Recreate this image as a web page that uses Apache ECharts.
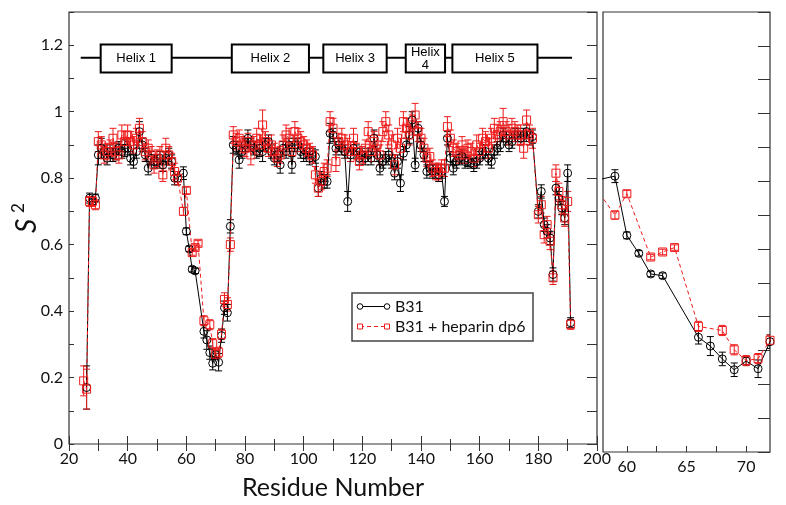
<!DOCTYPE html>
<html><head><meta charset="utf-8">
<script src="https://cdn.jsdelivr.net/npm/echarts@6/dist/echarts.min.js"></script>
<style>html,body{margin:0;padding:0;background:#fff}#c{width:786px;height:505px}</style>
</head><body><div id="c"></div><script>
const residues = [
 25,26,27,28,29,30,31,32,33,34,
 35,36,37,38,39,40,41,42,43,44,
 45,46,47,48,49,50,51,52,53,54,
 55,56,57,58,59,60,61,62,63,64,
 65,66,67,68,69,70,71,72,73,74,
 75,76,77,78,79,80,81,82,83,84,
 85,86,87,88,89,90,91,92,93,94,
 95,96,97,98,99,100,101,102,103,104,
 105,106,107,108,109,110,111,112,113,114,
 115,116,117,118,119,120,121,122,123,124,
 125,126,127,128,129,130,131,132,133,134,
 135,136,137,138,139,140,141,142,143,144,
 145,146,147,148,149,150,151,152,153,154,
 155,156,157,158,159,160,161,162,163,164,
 165,166,167,168,169,170,171,172,173,174,
 175,176,177,178,179,180,181,182,183,184,
 185,186,187,188,189,190,191];
const b31 = [
 null,0.17,0.74,0.73,0.74,0.87,0.89,0.88,0.86,0.88,
 0.87,0.88,0.89,0.88,0.89,0.89,0.86,0.85,0.88,0.94,
 0.90,0.87,0.83,0.86,0.85,0.85,0.86,0.84,0.86,0.87,
 0.85,0.80,0.80,null,0.815,0.64,0.587,0.526,0.521,null,
 null,0.339,0.313,0.275,0.243,0.269,0.246,0.326,0.41,0.395,
 0.655,0.90,0.89,0.855,0.88,0.90,0.92,0.90,0.89,0.88,
 0.89,0.88,0.90,0.91,0.88,0.86,0.87,0.84,0.89,0.88,
 0.90,0.84,0.90,0.90,0.88,0.87,0.88,0.86,0.87,0.865,
 0.77,0.80,0.79,0.79,0.935,0.93,0.89,0.90,0.89,0.88,
 0.73,0.87,0.89,0.88,0.86,0.87,0.86,0.87,0.86,0.92,
 0.87,0.83,0.85,0.86,0.87,0.85,0.815,0.85,0.785,0.875,
 0.90,0.93,0.975,0.84,0.95,0.90,0.87,0.82,0.83,0.82,
 0.82,0.81,0.82,0.73,0.92,0.86,0.83,0.85,0.86,0.865,
 0.85,0.85,0.845,0.84,0.85,0.86,0.88,0.88,0.86,0.85,
 0.88,0.89,0.90,0.93,0.92,0.90,0.91,0.93,0.93,0.92,
 0.93,0.94,0.92,0.925,null,0.70,0.76,0.66,0.64,0.62,
 0.51,0.77,0.74,0.71,0.68,0.815,0.365];
const b31Err = [
 0,0.065,0.015,0.012,0.012,0.03,0.03,0.02,0.02,0.02,
 0.02,0.025,0.02,0.02,0.025,0.02,0.02,0.02,0.02,0.03,
 0.02,0.02,0.02,0.02,0.02,0.02,0.02,0.02,0.02,0.02,
 0.02,0.02,0.02,0,0.019,0.01,0.008,0.008,0.008,0,
 0,0.02,0.028,0.02,0.02,0.012,0.026,0.02,0.02,0.025,
 0.02,0.025,0.02,0.025,0.02,0.02,0.025,0.02,0.02,0.02,
 0.025,0.03,0.02,0.02,0.02,0.02,0.02,0.025,0.02,0.02,
 0.02,0.025,0.02,0.02,0.02,0.02,0.02,0.02,0.02,0.02,
 0.025,0.02,0.02,0.02,0.03,0.02,0.02,0.02,0.02,0.02,
 0.03,0.02,0.02,0.02,0.02,0.02,0.02,0.02,0.02,0.025,
 0.02,0.02,0.02,0.02,0.02,0.02,0.02,0.02,0.025,0.02,
 0.02,0.025,0.025,0.02,0.02,0.02,0.02,0.02,0.02,0.02,
 0.02,0.02,0.02,0.015,0.02,0.02,0.02,0.02,0.02,0.02,
 0.02,0.015,0.015,0.02,0.02,0.02,0.02,0.02,0.02,0.02,
 0.02,0.02,0.02,0.02,0.02,0.02,0.02,0.02,0.02,0.02,
 0.02,0.02,0.02,0.02,0,0.02,0.02,0.02,0.02,0.02,
 0.02,0.02,0.02,0.02,0.02,0.025,0.015];
const heparin = [
 0.19,0.165,0.73,0.73,0.72,0.91,0.90,0.87,0.88,0.89,
 0.92,0.88,0.87,0.93,0.91,0.93,0.91,0.90,0.92,0.95,
 0.91,0.88,0.89,0.87,0.84,0.86,0.87,0.81,0.89,0.87,
 0.85,0.82,0.80,null,0.70,0.763,null,0.576,0.591,0.604,
 null,0.371,null,0.359,0.302,0.27,0.276,0.33,0.435,0.42,
 0.60,0.93,0.91,0.92,0.90,0.89,0.91,0.87,0.90,0.92,
 0.90,0.96,0.91,0.89,0.90,0.88,0.86,0.87,0.90,0.93,
 0.92,0.88,0.94,0.92,0.91,0.90,0.89,0.88,0.87,0.81,
 0.77,0.79,0.82,0.83,0.97,0.95,0.85,0.91,0.92,0.90,
 0.89,0.88,0.92,0.88,0.85,0.87,0.89,0.94,0.88,0.91,
 0.90,0.87,0.94,0.97,0.93,0.90,0.84,0.92,0.89,0.97,
 0.95,0.93,0.96,0.99,0.94,0.92,0.89,0.86,0.865,0.83,
 0.82,0.82,0.83,0.83,0.955,0.92,0.89,0.88,0.87,0.90,
 0.87,0.89,0.88,0.86,0.90,0.88,0.92,0.91,0.89,0.92,
 0.95,0.93,0.94,0.97,0.94,0.93,0.95,0.94,0.93,0.93,
 0.89,0.975,0.93,0.92,null,0.69,0.72,0.63,0.66,0.61,
 0.50,0.815,0.76,0.72,0.68,0.73,0.36];
const heparinErr = [
 0.045,0.06,0.015,0.015,0.015,0.03,0.025,0.025,0.025,0.025,
 0.03,0.025,0.025,0.03,0.03,0.03,0.03,0.025,0.03,0.03,
 0.03,0.025,0.025,0.025,0.025,0.025,0.025,0.02,0.03,0.025,
 0.025,0.025,0.02,0,0.012,0.01,0,0.008,0.008,0.008,
 0,0.015,0,0.015,0.015,0.015,0.015,0.015,0.02,0.02,
 0.02,0.025,0.025,0.025,0.025,0.025,0.025,0.03,0.025,0.03,
 0.03,0.045,0.03,0.025,0.03,0.025,0.025,0.025,0.03,0.03,
 0.03,0.03,0.03,0.03,0.03,0.025,0.025,0.025,0.025,0.025,
 0.025,0.025,0.025,0.025,0.03,0.03,0.03,0.025,0.03,0.03,
 0.03,0.03,0.03,0.025,0.025,0.025,0.025,0.03,0.03,0.03,
 0.03,0.03,0.03,0.03,0.03,0.03,0.03,0.03,0.03,0.03,
 0.03,0.03,0.03,0.035,0.03,0.03,0.03,0.025,0.025,0.025,
 0.025,0.025,0.025,0.025,0.03,0.025,0.025,0.025,0.025,0.025,
 0.025,0.025,0.025,0.025,0.03,0.025,0.03,0.03,0.03,0.03,
 0.03,0.03,0.03,0.04,0.03,0.03,0.03,0.03,0.03,0.03,
 0.03,0.03,0.03,0.03,0,0.025,0.025,0.025,0.025,0.025,
 0.02,0.025,0.025,0.025,0.025,0.03,0.015];
const helixNames = ['Helix 1', 'Helix 2', 'Helix 3', 'Helix\n4', 'Helix 5'];
const helixStart = [30.8, 75.5, 106.7, 134.8, 150.7];
const helixEnd = [55.0, 101.8, 128.3, 148.2, 179.7];
const backboneRange = [24, 191.5];
const helixLevel = 1.162, helixTop = 1.202, helixBottom = 1.118;
const legendNames = ['B31', 'B31 + heparin dp6'];
const insetLabels = [60, 65, 70];
const insetTicks = [60, 62.5, 65, 67.5, 70];

const BLACK = '#000', RED = '#ee1c1c', AX = '#333';
const FONT = 'Lato';

function pairs(vals) {
  const out = [];
  for (let i = 0; i < residues.length; i++) if (vals[i] != null) out.push([residues[i], vals[i]]);
  return out;
}
function errData(vals, errs) {
  const out = [];
  for (let i = 0; i < residues.length; i++)
    if (vals[i] != null && errs[i] > 0) out.push([residues[i], vals[i] - errs[i], vals[i] + errs[i]]);
  return out;
}
function errSeries(vals, errs, color, xi, yi) {
  return {
    type: 'custom', xAxisIndex: xi, yAxisIndex: yi, clip: true, silent: true, z: 2,
    encode: { x: 0, y: [1, 2] },
    renderItem(params, api) {
      const x = api.value(0);
      const lo = api.coord([x, api.value(1)]), hi = api.coord([x, api.value(2)]);
      const w = 3.5, st = { stroke: color, lineWidth: 1, fill: null };
      return { type: 'group', children: [
        { type: 'line', shape: { x1: lo[0], y1: lo[1], x2: hi[0], y2: hi[1] }, style: st },
        { type: 'line', shape: { x1: lo[0] - w, y1: lo[1], x2: lo[0] + w, y2: lo[1] }, style: st },
        { type: 'line', shape: { x1: hi[0] - w, y1: hi[1], x2: hi[0] + w, y2: hi[1] }, style: st }
      ]};
    },
    data: errData(vals, errs)
  };
}
function lineSeries(vals, color, symbol, dashed, xi, yi) {
  return {
    type: 'line', xAxisIndex: xi, yAxisIndex: yi, data: pairs(vals), clip: true, silent: true, z: 3,
    symbol: symbol, symbolSize: 8, showAllSymbol: true,
    itemStyle: { color: 'rgba(0,0,0,0)', borderColor: color, borderWidth: 1 },
    lineStyle: { color: color, width: 1, type: dashed ? [4, 3] : 'solid' }
  };
}

const chart = echarts.init(document.getElementById('c'), null, { renderer: 'canvas' });
const yLabelFmt = v => (Math.round(v * 10) % 2 === 0) ? String(Math.round(v * 10) / 10) : '';
const tickStyle = { color: AX, width: 1 };

chart.setOption({
  animation: false,
  backgroundColor: '#fff',
  grid: [
    { left: 69, top: 12, width: 528, height: 440, show: true, borderColor: AX, borderWidth: 1.2, backgroundColor: 'rgba(0,0,0,0)' },
    { left: 603, top: 12, width: 167, height: 440, show: true, borderColor: AX, borderWidth: 1.2, backgroundColor: 'rgba(0,0,0,0)' }
  ],
  xAxis: [
    { type: 'value', gridIndex: 0, min: 20, max: 200, interval: 20,
      axisLine: { show: false }, splitLine: { show: false },
      axisTick: { inside: true, length: 8, lineStyle: tickStyle },
      minorTick: { show: true, splitNumber: 2, length: 5, lineStyle: tickStyle },
      axisLabel: { fontSize: 16, color: '#111', fontFamily: FONT, margin: 7 },
      name: 'Residue Number', nameLocation: 'middle', nameGap: 31,
      nameTextStyle: { fontSize: 25, fontFamily: FONT, color: '#111' } },
    { type: 'value', gridIndex: 0, position: 'top', min: 20, max: 200, interval: 10,
      axisLine: { show: false }, splitLine: { show: false },
      axisTick: { inside: true, length: 7, lineStyle: tickStyle }, axisLabel: { show: false } },
    { type: 'value', gridIndex: 1, min: 58, max: 72,
      axisLine: { show: false }, splitLine: { show: false },
      axisTick: { inside: true, length: 6, lineStyle: tickStyle, customValues: insetTicks },
      axisLabel: { fontSize: 16, color: '#111', fontFamily: FONT, margin: 7, customValues: insetLabels } }
  ],
  yAxis: [
    { type: 'value', gridIndex: 0, min: 0, max: 1.3, interval: 0.1,
      axisLine: { show: false }, splitLine: { show: false },
      axisTick: { inside: true, length: 5, lineStyle: tickStyle },
      axisLabel: { fontSize: 16, color: '#111', fontFamily: FONT, margin: 6, formatter: yLabelFmt } },
    { type: 'value', gridIndex: 0, position: 'right', min: 0, max: 1.3, interval: 0.1,
      axisLine: { show: false }, splitLine: { show: false },
      axisTick: { inside: true, length: 10, lineStyle: tickStyle }, axisLabel: { show: false } },
    { type: 'value', gridIndex: 1, position: 'right', min: 0, max: 1.3, interval: 0.1,
      axisLine: { show: false }, splitLine: { show: false },
      axisTick: { inside: true, length: 12, lineStyle: tickStyle }, axisLabel: { show: false } }
  ],
  series: [
    { type: 'line', xAxisIndex: 0, yAxisIndex: 0, silent: true, z: 4, symbol: 'none',
      data: [[backboneRange[0], helixLevel], [backboneRange[1], helixLevel]],
      lineStyle: { color: '#000', width: 2 } },
    { type: 'custom', xAxisIndex: 0, yAxisIndex: 0, silent: true, z: 5,
      data: helixNames.map((n, i) => [helixStart[i], helixEnd[i], i]),
      renderItem(params, api) {
        const p0 = api.coord([api.value(0), helixTop]);
        const p1 = api.coord([api.value(1), helixBottom]);
        return { type: 'group', children: [
          { type: 'rect', shape: { x: p0[0], y: p0[1], width: p1[0] - p0[0], height: p1[1] - p0[1] },
            style: { fill: '#fff', stroke: '#000', lineWidth: 2 } },
          { type: 'text', style: { text: helixNames[api.value(2)], x: (p0[0] + p1[0]) / 2, y: (p0[1] + p1[1]) / 2,
            align: 'center', verticalAlign: 'middle', fontSize: 13, fontFamily: 'Liberation Sans', fill: '#000', lineHeight: 13 } }
        ]};
      } },
    errSeries(b31, b31Err, BLACK, 0, 0),
    lineSeries(b31, BLACK, 'circle', false, 0, 0),
    errSeries(heparin, heparinErr, RED, 0, 0),
    lineSeries(heparin, RED, 'rect', true, 0, 0),
    errSeries(b31, b31Err, BLACK, 2, 2),
    lineSeries(b31, BLACK, 'circle', false, 2, 2),
    errSeries(heparin, heparinErr, RED, 2, 2),
    lineSeries(heparin, RED, 'rect', true, 2, 2)
  ],
  graphic: [
    { type: 'rect', shape: { x: 352, y: 293, width: 181, height: 48 }, style: { fill: '#fff', stroke: '#444', lineWidth: 1.5 }, z: 20 },
    { type: 'line', shape: { x1: 360, y1: 306.5, x2: 387, y2: 306.5 }, style: { stroke: BLACK, lineWidth: 1 }, z: 21 },
    { type: 'circle', shape: { cx: 360, cy: 306.5, r: 2.8 }, style: { fill: '#fff', stroke: BLACK, lineWidth: 1 }, z: 22 },
    { type: 'circle', shape: { cx: 387, cy: 306.5, r: 2.8 }, style: { fill: '#fff', stroke: BLACK, lineWidth: 1 }, z: 22 },
    { type: 'text', x: 395, y: 307, style: { text: legendNames[0], fontSize: 16, fontFamily: FONT, fill: '#111', verticalAlign: 'middle' }, z: 22 },
    { type: 'line', shape: { x1: 360, y1: 326.5, x2: 387, y2: 326.5 }, style: { stroke: RED, lineWidth: 1, lineDash: [4, 3] }, z: 21 },
    { type: 'rect', shape: { x: 357.5, y: 324, width: 5, height: 5 }, style: { fill: '#fff', stroke: RED, lineWidth: 1 }, z: 22 },
    { type: 'rect', shape: { x: 384.5, y: 324, width: 5, height: 5 }, style: { fill: '#fff', stroke: RED, lineWidth: 1 }, z: 22 },
    { type: 'text', x: 395, y: 327, style: { text: legendNames[1], fontSize: 16, fontFamily: FONT, fill: '#111', verticalAlign: 'middle' }, z: 22 },
    { type: 'text', x: 27, y: 226, rotation: Math.PI / 2, style: { text: 'S', fontSize: 28, fontStyle: 'italic', fontFamily: FONT, fill: '#111', align: 'center', verticalAlign: 'middle' }, z: 22 },
    { type: 'text', x: 19, y: 208, rotation: Math.PI / 2, style: { text: '2', fontSize: 17, fontFamily: FONT, fill: '#111', align: 'center', verticalAlign: 'middle' }, z: 22 }
  ]
});
</script></body></html>
